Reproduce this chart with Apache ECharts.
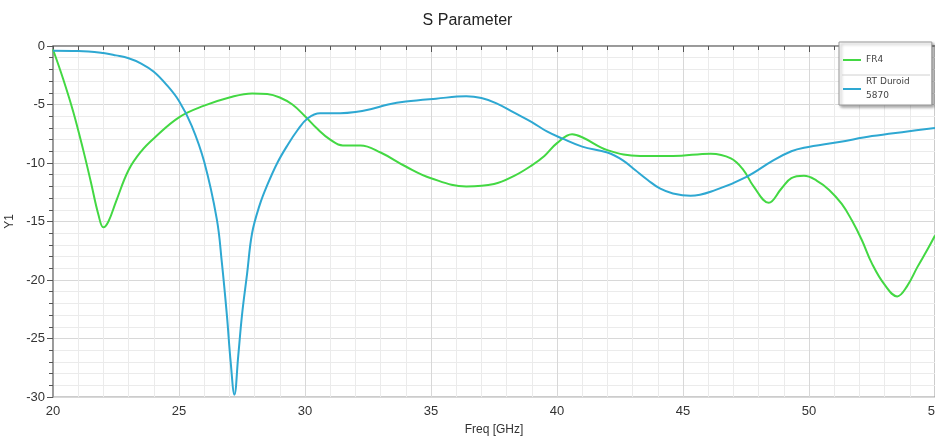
<!DOCTYPE html>
<html>
<head>
<meta charset="utf-8">
<script src="https://cdn.jsdelivr.net/npm/echarts@6/dist/echarts.min.js"></script>
<style>
  html, body { margin: 0; padding: 0; background: #fff; }
  #chart { width: 935px; height: 439px; }
</style>
</head>
<body>
<div id="chart"></div>
<script>
// FR4 curve
const fr4Freq = [20, 20.4, 20.8, 21.2, 21.5, 21.8, 22.0, 22.2, 22.5, 23.0, 23.5, 24.0, 25.0, 26.0, 27.0, 27.9, 28.5, 29.0, 29.5, 30.0, 30.5, 31.0, 31.5, 32.2, 33.0, 34.0, 35.0, 36.4, 37.5, 38.3, 39.0, 39.5, 40.0, 40.6, 41.0, 42.0, 43.3, 44.6, 46.1, 46.9, 47.4, 47.8, 48.4, 48.9, 49.3, 49.8, 50.3, 50.8, 51.3, 51.7, 52.1, 52.5, 53.0, 53.5, 53.9, 54.3, 54.7, 55];
const fr4Y1 = [-0.3, -2.8, -5.6, -8.9, -11.6, -14.4, -15.5, -15.0, -13.3, -10.6, -9.0, -7.9, -6.1, -5.1, -4.4, -4.05, -4.1, -4.4, -5.0, -6.0, -7.1, -8.0, -8.5, -8.5, -9.1, -10.3, -11.3, -12.0, -11.8, -11.1, -10.2, -9.4, -8.3, -7.55, -7.8, -8.9, -9.4, -9.4, -9.2, -9.6, -10.6, -12.0, -13.4, -12.2, -11.3, -11.1, -11.5, -12.3, -13.5, -14.9, -16.6, -18.6, -20.4, -21.4, -20.5, -18.9, -17.4, -16.2];

// RT Duroid 5870 curve
const duroidFreq = [20, 21, 22, 22.5, 23, 23.5, 24, 24.5, 25.0, 25.5, 26.0, 26.5, 26.7, 26.9, 27.05, 27.2, 27.35, 27.5, 27.7, 27.9, 28.2, 28.5, 28.9, 29.3, 29.7, 30.1, 30.6, 31.4, 32.0, 32.6, 33.3, 34.0, 35.2, 36.4, 37.0, 37.6, 38.3, 39.0, 39.6, 40.2, 41.0, 42.0, 42.6, 43.1, 43.6, 44.1, 44.6, 45.3, 46.3, 47.5, 48.6, 49.3, 49.8, 51.2, 52.5, 53.9, 55];
const duroidY1 = [-0.4, -0.42, -0.6, -0.8, -1.05, -1.5, -2.2, -3.3, -4.7, -6.8, -9.9, -14.8, -18.5, -23, -27, -29.8, -26.5, -23, -19.5, -16, -13.6, -11.9, -10.0, -8.5, -7.2, -6.2, -5.75, -5.75, -5.65, -5.4, -5.0, -4.75, -4.5, -4.3, -4.45, -4.9, -5.7, -6.5, -7.3, -7.9, -8.6, -9.1, -9.75, -10.6, -11.45, -12.2, -12.6, -12.8, -12.3, -11.2, -9.75, -9.0, -8.7, -8.2, -7.7, -7.3, -7.0];

const seriesNames = ['FR4', 'RT Duroid\n5870'];

const chart = echarts.init(document.getElementById('chart'), null, { renderer: 'canvas' });

const pairs = (xs, ys) => xs.map((x, i) => [x, ys[i]]);

const labelFont = { color: '#333', fontSize: 13, fontFamily: 'Liberation Sans, Arial, sans-serif' };

const option = {
  animation: false,
  title: {
    text: 'S Parameter',
    left: 'center',
    top: 8,
    textStyle: { color: '#222', fontSize: 16, fontWeight: 'normal', fontFamily: 'Liberation Sans, Arial, sans-serif' }
  },
  legend: {
    data: seriesNames,
    orient: 'vertical',
    left: 839,
    top: 42,
    padding: [11, 22, 2, 4],
    itemGap: 8,
    itemWidth: 18,
    itemHeight: 2,
    icon: 'rect',
    backgroundColor: '#fff',
    borderColor: '#999',
    borderWidth: 1,
    shadowColor: 'rgba(0,0,0,0.35)',
    shadowBlur: 3,
    shadowOffsetX: 2,
    shadowOffsetY: 2,
    textStyle: { color: '#444', fontSize: 9, lineHeight: 14, fontFamily: 'DejaVu Sans, sans-serif' }
  },
  graphic: [{
    type: 'line',
    shape: { x1: 842, y1: 75, x2: 930, y2: 75 },
    style: { stroke: '#d0d0d0', lineWidth: 1 },
    z: 100
  }],
  grid: {
    left: 53,
    right: 0,
    top: 46,
    bottom: 42,
    outerBoundsMode: 'none',
    containLabel: false,
    show: true,
    borderColor: '#999',
    borderWidth: 1
  },
  xAxis: {
    type: 'value',
    min: 20,
    max: 55,
    interval: 5,
    name: 'Freq [GHz]',
    nameLocation: 'middle',
    nameGap: 27,
    nameTextStyle: { color: '#333', fontSize: 12, fontFamily: 'Liberation Sans, Arial, sans-serif' },
    axisLine: { show: true, lineStyle: { color: '#888', width: 1.5 } },
    axisTick: { show: true, length: 6, lineStyle: { color: '#555' } },
    minorTick: { show: true, splitNumber: 5, length: 4, lineStyle: { color: '#555' } },
    axisLabel: Object.assign({ margin: 8 }, labelFont),
    splitLine: { show: true, lineStyle: { color: '#d8d8d8' } },
    minorSplitLine: { show: true, lineStyle: { color: '#ebebeb' } }
  },
  yAxis: {
    type: 'value',
    min: -30,
    max: 0,
    interval: 5,
    name: 'Y1',
    nameLocation: 'middle',
    nameGap: 36,
    nameTextStyle: { color: '#333', fontSize: 12, fontFamily: 'Liberation Sans, Arial, sans-serif' },
    axisLine: { show: true, lineStyle: { color: '#888', width: 1.5 } },
    axisTick: { show: true, length: 6, lineStyle: { color: '#555' } },
    minorTick: { show: true, splitNumber: 5, length: 4, lineStyle: { color: '#555' } },
    axisLabel: Object.assign({ margin: 8 }, labelFont),
    splitLine: { show: true, lineStyle: { color: '#d8d8d8' } },
    minorSplitLine: { show: true, lineStyle: { color: '#ebebeb' } }
  },
  series: [
    {
      name: seriesNames[0],
      type: 'line',
      smooth: 0.4,
      showSymbol: false,
      color: '#43d843',
      lineStyle: { width: 2 },
      data: pairs(fr4Freq, fr4Y1)
    },
    {
      name: seriesNames[1],
      type: 'line',
      smooth: 0.4,
      showSymbol: false,
      color: '#2ea8d2',
      lineStyle: { width: 2 },
      data: pairs(duroidFreq, duroidY1)
    }
  ]
};

chart.setOption(option);
</script>
</body>
</html>
